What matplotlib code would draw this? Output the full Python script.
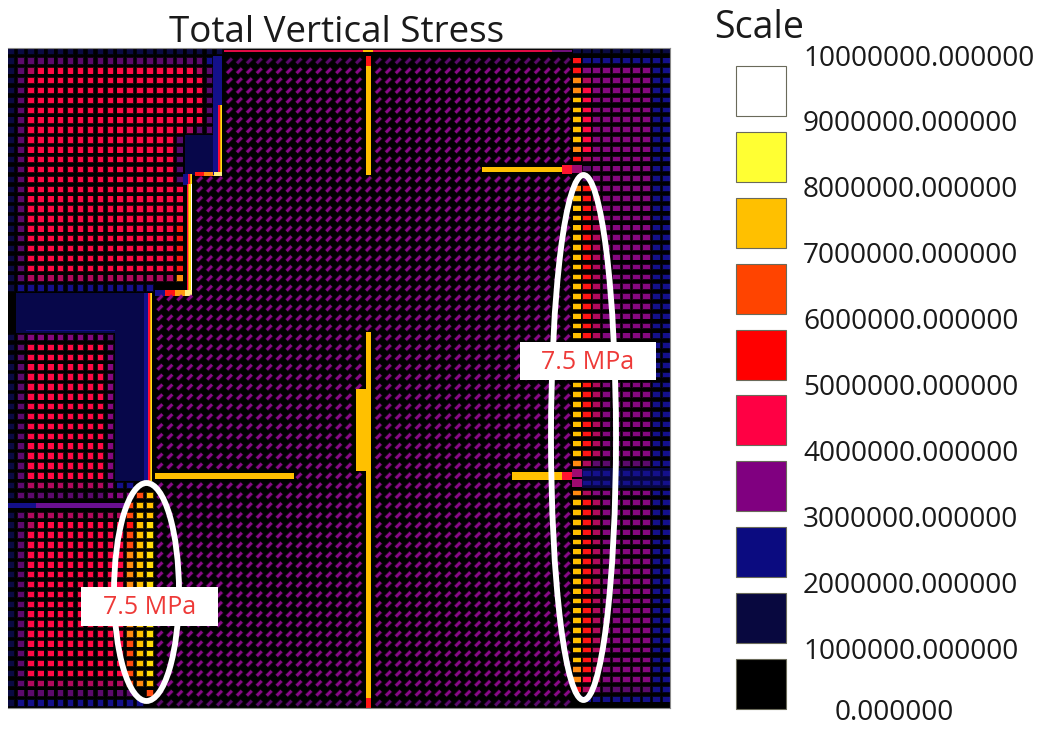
import re

import matplotlib
matplotlib.use("Agg")
import matplotlib.pyplot as plt
from matplotlib.collections import PolyCollection
from matplotlib.colors import to_rgba
from matplotlib.patches import Ellipse, Rectangle
from matplotlib.transforms import ScaledTranslation, blended_transform_factory

plt.rcParams["font.family"] = ["Open Sans", "DejaVu Sans"]

# scale legend
SCALE_VALUES = [0, 1e6, 2e6, 3e6, 4e6, 5e6, 6e6, 7e6, 8e6, 9e6, 10e6]
SCALE_COLORS = ["#000000", "#08083f", "#0b0b80", "#800080", "#ff0044",
                "#ff0000", "#ff4400", "#ffc000", "#ffff33", "#ffffff"]

CALLOUT_TEXT = "7.5 MPa"

# pillar map, run length coded per row: columns 0-21, 22-56, 57-66
MT = "14d1V20d"
MN = "35d"
RS = "1g1r1m5q2n"
RU = "1g1c6q2n"
LA = "1a1p18c1p1N"
LB = "1a1p15c1p3B1K"
LC = "1a1p8c1q3B1K7d"
LD = "1a1p10c1o1g1y7d"
LE = "1a1p10c1f1g1y7d"
FIELD_ROWS = [
    (1, "22a", "14u1G18u2v", "10a"),
    (1, "1a19p1n1N", "14e1U20e", "1r9n"),
    (1, "1a1p1m16c1m1p1N", MT, "1r7q2n"),
    (1, LA, MT, "1o1m6q2n"),
    (1, LA, MT, "1o1c6q2n"),
    (1, LA, MT, RU),
    (2, "1a1p18c1p1K", MT, RU),
    (1, "1a1p16c1m1p1p1K", MT, RU),
    (1, LB, MT, RU),
    (1, LB, MT, "1o1c6q2n"),
    (1, LB, MT, "1r1m6q2n"),
    (1, "1a1p15c1p1B1k1h1W", "14d1V11d8H1R", "1S1p6q2n"),
    (1, "1a1p15c1p1K3d", MN, "1.1p6q2n"),
    (1, "1a1p16c1L3d", MN, "1o1r6q2n"),
    (3, "1a1p16c1L3d", MN, RS),
    (5, "1a1p15c1r1L3d", MN, RS),
    (1, "1a1p15m1o1L3d", MN, RS),
    (1, "1a14n1x1z1l1w3d", MN, RS),
    (3, "1.13B1K7d", MN, RS),
    (1, "1.1B9b3B1K7d", MN, RS),
    (1, "1a1p8q1p3B1K7d", MT, RS),
    (4, LC, MT, RS),
    (1, LC, "13d1X1V20d", RS),
    (7, LC, "13d1Y1V20d", RS),
    (1, LC, "13d1Y1V20d", "1o1m6p2n"),
    (1, "1a1p8c1q3B1K14H7d", "1V14d5J1R", "1S9Z"),
    (1, "1a1p8m1q2n2.7d", MT, "1S9Z"),
    (1, "1a9p3q1f1g7d", MT, "1o1m6q2n"),
    (1, "3T9t1f2g7d", MT, RS),
    (1, "1a1p10m1f2g7d", MT, RS),
    (1, "1a1p1m9c1r1g1y7d", MT, RS),
    (2, LE, MT, RS),
    (9, LD, MT, RS),
    (3, LE, MT, RS),
    (1, LE, MT, "1o1r1m5q2n"),
    (1, "1a1p10m1f1o1g7d", MT, "1o1c1m5q2n"),
    (1, "1a12p1.1f7d", MT, "1r1m1q5p2n"),
    (1, "1a13n1.7e", "14e1U20e", "1.9n"),
]

COL_PITCH = 9.93
ROW_PITCH = 9.88
RIGHT_COL = 57
RIGHT_ROW_SCALE = 0.994


def rect(x0, x1, y0, y1):
    return [(x0, y0), (x1, y0), (x1, y1), (x0, y1)]


def diag(hl, hw):
    return [(-hl - hw, hl - hw), (-hl + hw, hl + hw), (hl + hw, -hl + hw), (hl - hw, -hl - hw)]


def pillar(color):
    return [(to_rgba(color, 0.22), rect(-0.37, 0.37, -0.37, 0.37)),
            (color, rect(-0.28, 0.28, -0.28, 0.28))]


def wide_pillar(color):
    return [(to_rgba(color, 0.22), rect(-0.45, 0.45, -0.33, 0.33)),
            (color, rect(-0.36, 0.36, -0.24, 0.24))]


def dash(color):
    return [(to_rgba(color, 0.25), diag(0.27, 0.16)), (color, diag(0.24, 0.1))]


NAVY = "#14108a"
BLOCK = "#07074a"
PILLAR_COLORS = {"a": "#0a0a42", "n": NAVY, "p": "#5c0a6c", "q": "#85087f", "m": "#b00a5c",
                 "c": "#ff0a44", "r": "#ff1414", "f": "#ff4a10", "o": "#ff8a10",
                 "g": "#ffc000", "y": "#ffdc08"}
HOT = [("#ff0a44", -0.3, -0.15), ("#ff8a10", -0.15, -0.03), ("#ffe010", -0.03, 0.08), ("#ffffff", 0.08, 0.2)]
EDGE = [(NAVY, -0.65, -0.2), ("#ff0a44", -0.2, -0.08), ("#ff1414", -0.08, 0.02),
        ("#ffa010", 0.02, 0.1), ("#ffe010", 0.1, 0.2)]
hot_layers = [(c, rect(a, b, -0.52, 0.52)) for c, a, b in HOT]
edge_layers = [(c, rect(a, b, -0.52, 0.52)) for c, a, b in EDGE]
block_layer = [(BLOCK, rect(-0.52, 0.52, -0.52, 0.52))]

STYLES = {k: pillar(v) for k, v in PILLAR_COLORS.items()}
STYLES.update({
    "d": dash("#8a0a88"),
    "e": dash("#5c0a6c"),
    "B": block_layer,
    "b": block_layer + [(NAVY, rect(-0.52, 0.52, 0.2, 0.35))],
    "K": edge_layers,
    "L": hot_layers,
    "N": [(NAVY, rect(-0.65, 0.22, -0.52, 0.52))],
    "k": block_layer + [("#ff1414", rect(-0.52, 0.52, 0.2, 0.65))],
    "h": block_layer + [("#ff8a10", rect(-0.52, 0.52, 0.2, 0.65))],
    "W": edge_layers + [("#fff080", rect(-0.52, 0.2, 0.2, 0.65))],
    "x": [(NAVY, rect(-0.52, 0.52, 0.2, 0.75))],
    "z": [("#ff1414", rect(-0.52, 0.52, 0.2, 0.75))],
    "l": [("#ff9a10", rect(-0.52, 0.52, 0.2, 0.75))],
    "w": hot_layers + [("#fff080", rect(-0.52, 0.2, 0.2, 0.75))],
    "u": [("#e00a44", rect(-0.52, 0.52, -0.14, 0.14))],
    "v": [("#70107a", rect(-0.52, 0.52, -0.14, 0.14))],
    "G": [("#ffc000", rect(-0.52, 0.52, -0.14, 0.14))],
    "T": [(NAVY, rect(-0.6, 0.52, -0.25, 0.25))],
    "t": [("#6a1090", rect(-0.52, 0.52, -0.25, 0.25))],
    "V": [("#ffc000", rect(-0.27, 0.27, -0.52, 0.52))],
    "U": [("#ff1414", rect(-0.27, 0.27, -0.52, 0.52))],
    "Y": [("#ffc000", rect(-0.25, 0.8, -0.52, 0.52))],
    "X": dash("#8a0a88") + [("#ffc000", rect(-0.25, 0.8, 0.2, 0.52))],
    "H": [("#ffc000", rect(-0.52, 0.52, -0.28, 0.28))],
    "J": [("#ffc000", rect(-0.52, 0.52, -0.42, 0.42))],
    "R": [("#ff1430", rect(-0.52, 0.52, -0.42, 0.42))],
    "S": [("#a00a70", rect(-0.52, 0.52, -0.42, 0.42))],
    "Z": [("#06063c", rect(-0.52, 0.52, -0.52, 0.52))] + wide_pillar(NAVY),
})
RIGHT_STYLES = {k: wide_pillar(v) for k, v in PILLAR_COLORS.items()}


def expand(runs):
    return "".join(ch * int(n) for n, ch in re.findall(r"(\d+)(\D)", runs))


def build_rows():
    rows = []
    for count, left, mid, right in FIELD_ROWS:
        rows.extend([expand(left + mid + right)] * count)
    return rows


def draw_field(ax, rows):
    verts, colors = [], []
    for j, row in enumerate(rows):
        for i, ch in enumerate(row):
            if ch == ".":
                continue
            y = j * RIGHT_ROW_SCALE if i >= RIGHT_COL else j
            layers = RIGHT_STYLES.get(ch, STYLES[ch]) if i >= RIGHT_COL else STYLES[ch]
            for color, shape in layers:
                verts.append([(i + dx, y + dy) for dx, dy in shape])
                colors.append(to_rgba(color))
    ax.add_collection(PolyCollection(verts, facecolors=colors, edgecolors="none"))


def main():
    fig = plt.figure(figsize=(10.4, 7.29), dpi=100, facecolor="white")

    ax = fig.add_axes([8 / 1040, 1 - 708 / 729, 662 / 1040, 660 / 729], facecolor="black")
    rows = build_rows()
    draw_field(ax, rows)
    ax.set_xlim((8 - 11) / COL_PITCH, (670 - 11) / COL_PITCH)
    ax.set_ylim((708 - 51) / ROW_PITCH, (48 - 51) / ROW_PITCH)
    ax.set_xticks([])
    ax.set_yticks([])
    for spine in ax.spines.values():
        spine.set_color("#8a8a8a")
        spine.set_linewidth(0.8)
    ax.spines["left"].set_visible(False)

    # callouts sit above the field, placed in pixels
    over = fig.add_axes([0, 0, 1, 1], facecolor="none")
    over.set_xlim(0, 1040)
    over.set_ylim(729, 0)
    over.axis("off")
    over.add_patch(Ellipse((146.5, 592), 65, 218, fc="none", ec="white", lw=4.2))
    over.add_patch(Ellipse((583.5, 437.5), 65, 525, fc="none", ec="white", lw=4.2))
    for x0, y0, x1, y1 in [(520, 342, 656, 380), (81, 587, 218, 626)]:
        over.add_patch(Rectangle((x0, y0), x1 - x0, y1 - y0, fc="white", ec="none"))
        over.text((x0 + x1) / 2, (y0 + y1) / 2 + 1, CALLOUT_TEXT, color="#ee3a38", fontsize=18,
                  ha="center", va="center")
    over.text(337, 33, "Total Vertical Stress", color="#1a1a1a", fontsize=26.5, ha="center", va="center")
    over.text(714, 28, "Scale", color="#1a1a1a", fontsize=27, ha="left", va="center")

    # scale swatches and their values
    sc = fig.add_axes([736 / 1040, 1 - 717 / 729, 50 / 1040, 659 / 729], facecolor="none")
    centres = [(a + b) / 2 for a, b in zip(SCALE_VALUES[:-1], SCALE_VALUES[1:])]
    bars = sc.barh(centres, [1] * len(centres), height=0.76e6, color=SCALE_COLORS,
                   edgecolor="#6a6a5a", linewidth=0.8)
    for bar in bars:
        bar.set_clip_on(False)
    sc.set_xlim(0, 1)
    sc.set_ylim(0, 10e6)
    sc.axis("off")
    base = blended_transform_factory(over.transData, sc.transData)
    for v in SCALE_VALUES:
        x = 835 if v == 0 else 803
        # lowest label has to stay clear of the figure edge
        lift = 4.5 if v == 0 else -0.5
        trans = base + ScaledTranslation(0, lift / 100, fig.dpi_scale_trans)
        sc.text(x, v, f"{v:f}", transform=trans, color="#1a1a1a", fontsize=20.2,
                ha="left", va="center", clip_on=False)

    fig.savefig("out.png", dpi=100, facecolor="white")
    plt.close(fig)


if __name__ == "__main__":
    main()
